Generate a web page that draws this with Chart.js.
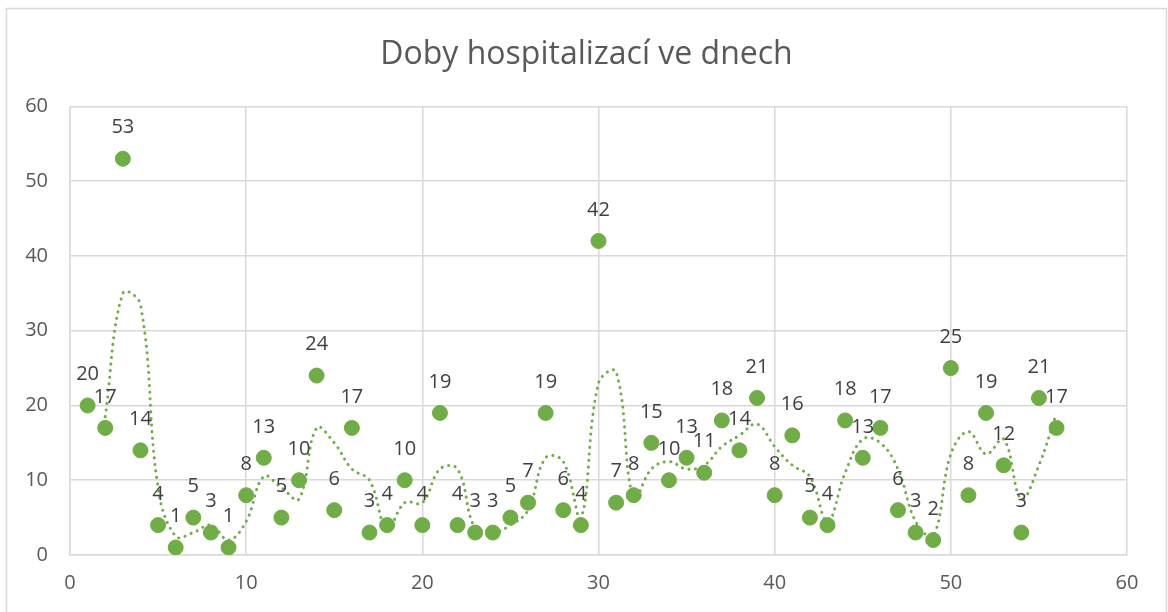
<!DOCTYPE html>
<html>
<head>
<meta charset="utf-8">
<script src="https://cdn.jsdelivr.net/npm/chart.js@4.4.1/dist/chart.umd.min.js"></script>
<style>
  html, body { margin: 0; padding: 0; background: #fff; }
</style>
</head>
<body>
<canvas id="chart" width="1168" height="612"></canvas>
<script>
// patient order (x) and length of stay in days (y)
const patients = [1, 2, 3, 4, 5, 6, 7, 8, 9, 10, 11, 12, 13, 14, 15, 16, 17, 18, 19, 20,
  21, 22, 23, 24, 25, 26, 27, 28, 29, 30, 31, 32, 33, 34, 35, 36, 37, 38, 39, 40,
  41, 42, 43, 44, 45, 46, 47, 48, 49, 50, 51, 52, 53, 54, 55, 56];
const stayDays = [20, 17, 53, 14, 4, 1, 5, 3, 1, 8, 13, 5, 10, 24, 6, 17, 3, 4, 10, 4,
  19, 4, 3, 3, 5, 7, 19, 6, 4, 42, 7, 8, 15, 10, 13, 11, 18, 14, 21, 8,
  16, 5, 4, 18, 13, 17, 6, 3, 2, 25, 8, 19, 12, 3, 21, 17];
const xTicks = [0, 10, 20, 30, 40, 50, 60];
const yTicks = [0, 10, 20, 30, 40, 50, 60];

const green = '#70AD47';
const gridGray = '#d9d9d9';
const textGray = '#595959';

const points = patients.map((p, i) => ({ x: p, y: stayDays[i] }));
// 2-period moving average trendline, like Excel
const trend = [];
for (let i = 1; i < patients.length; i++) {
  trend.push({ x: patients[i], y: (stayDays[i - 1] + stayDays[i]) / 2 });
}

const labelsPlugin = {
  id: 'valueLabels',
  afterLayout(chart) {
    // center the title on the whole frame, not only on the padded box
    const t = chart.titleBlock;
    if (t) { t.left = 6; t.right = 1167; t.width = 1161; }
  },
  afterDatasetsDraw(chart) {
    const ctx = chart.ctx;
    const meta = chart.getDatasetMeta(1);
    ctx.save();
    ctx.font = '20px "Open Sans"';
    ctx.fillStyle = '#404040';
    ctx.textAlign = 'center';
    ctx.textBaseline = 'middle';
    meta.data.forEach((el, i) => {
      ctx.fillText(String(stayDays[i]), el.x, el.y - 31);
    });
    ctx.restore();
  }
};

const framePlugin = {
  id: 'frame',
  beforeDraw(chart) {
    const ctx = chart.ctx;
    ctx.save();
    ctx.fillStyle = '#fff';
    ctx.fillRect(0, 0, chart.width, chart.height);
    ctx.strokeStyle = gridGray;
    ctx.lineWidth = 1.5;
    ctx.strokeRect(6.5, 8.5, 1160, 650);
    ctx.restore();
  }
};

new Chart(document.getElementById('chart'), {
  type: 'scatter',
  data: {
    datasets: [
      {
        type: 'line',
        label: 'trend',
        data: trend,
        borderColor: green,
        borderWidth: 3,
        borderDash: [0.1, 6.5],
        borderCapStyle: 'round',
        pointRadius: 0,
        tension: 0.4,
        fill: false,
        order: 0
      },
      {
        label: 'Doby hospitalizací',
        data: points,
        backgroundColor: green,
        borderColor: green,
        pointRadius: 7.5,
        pointHoverRadius: 7.5,
        order: 1
      }
    ]
  },
  options: {
    responsive: false,
    animation: false,
    layout: { padding: { left: 0, right: 41, top: 0, bottom: 0 } },
    plugins: {
      legend: { display: false },
      tooltip: { enabled: false },
      title: {
        display: true,
        text: 'Doby hospitalizací ve dnech',
        color: textGray,
        font: { family: '"Open Sans"', size: 32, weight: 'normal' },
        padding: { top: 36, bottom: 32 }
      }
    },
    scales: {
      x: {
        type: 'linear',
        min: 0,
        max: 60,
        afterBuildTicks: (s) => { s.ticks = xTicks.map(v => ({ value: v })); },
        afterFit: (s) => { s.height = 57; },
        grid: { color: gridGray, lineWidth: 1.5, drawTicks: false },
        border: { color: gridGray, width: 1.5 },
        ticks: {
          color: textGray,
          font: { family: '"Open Sans"', size: 20 },
          padding: 16,
          maxRotation: 0
        }
      },
      y: {
        type: 'linear',
        min: 0,
        max: 60,
        afterBuildTicks: (s) => { s.ticks = yTicks.map(v => ({ value: v })); },
        afterFit: (s) => { s.width = 70; },
        grid: { color: gridGray, lineWidth: 1.5, drawTicks: false },
        border: { color: gridGray, width: 1.5 },
        ticks: {
          color: textGray,
          font: { family: '"Open Sans"', size: 20 },
          padding: 22
        }
      }
    }
  },
  plugins: [framePlugin, labelsPlugin]
});
</script>
</body>
</html>
